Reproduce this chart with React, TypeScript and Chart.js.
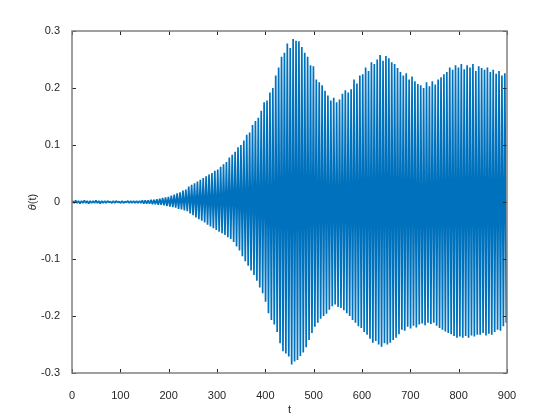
import React, { useEffect, useRef } from "react";
import { Chart, registerables } from "chart.js";

Chart.register(...registerables);

// Oscillation period in t units (one peak + one trough per cycle)
const PERIOD = 6;

const X_TICKS = [0, 100, 200, 300, 400, 500, 600, 700, 800, 900];
const Y_TICKS = [-0.3, -0.2, -0.1, 0, 0.1, 0.2, 0.3];

const X_TITLE = "t";
const Y_TITLE_SYMBOL = "θ";
const Y_TITLE_REST = "(t)";

// Peak value of each cycle (cycle k at t ≈ 6k)
const PEAKS = [
  0.002, 0.003, 0.002, 0.002, 0.003, 0.002, 0.002, 0.002, 0.003, 0.002,
  0.002, 0.002, 0.002, 0.001, 0.002, 0.002, 0.001, 0.002, 0.001, 0.002,
  0.002, 0.002, 0.002, 0.002, 0.003, 0.003, 0.003, 0.004, 0.004, 0.005,
  0.006, 0.007, 0.008, 0.009, 0.011, 0.013, 0.015, 0.017, 0.020, 0.022,
  0.027, 0.030, 0.033, 0.036, 0.039, 0.042, 0.045, 0.048, 0.051, 0.055,
  0.057, 0.062, 0.066, 0.070, 0.078, 0.083, 0.088, 0.096, 0.100, 0.108,
  0.118, 0.122, 0.135, 0.142, 0.148, 0.160, 0.175, 0.178, 0.192, 0.200,
  0.222, 0.236, 0.255, 0.262, 0.278, 0.270, 0.286, 0.283, 0.282, 0.272,
  0.262, 0.255, 0.240, 0.238, 0.215, 0.210, 0.205, 0.195, 0.187, 0.178,
  0.183, 0.175, 0.180, 0.190, 0.196, 0.192, 0.198, 0.215, 0.208, 0.222,
  0.224, 0.236, 0.230, 0.245, 0.242, 0.250, 0.258, 0.248, 0.256, 0.252,
  0.245, 0.242, 0.235, 0.228, 0.222, 0.226, 0.215, 0.220, 0.212, 0.207,
  0.205, 0.200, 0.210, 0.203, 0.212, 0.206, 0.215, 0.219, 0.224, 0.228,
  0.236, 0.232, 0.240, 0.236, 0.242, 0.233, 0.240, 0.236, 0.242, 0.230,
  0.238, 0.235, 0.232, 0.236, 0.228, 0.232, 0.225, 0.230, 0.222, 0.226,
];

// Trough value of each cycle
const TROUGHS = [
  -0.002, -0.002, -0.003, -0.002, -0.002, -0.003, -0.002, -0.002, -0.002, -0.003,
  -0.002, -0.002, -0.001, -0.002, -0.002, -0.001, -0.002, -0.002, -0.001, -0.002,
  -0.002, -0.002, -0.002, -0.002, -0.003, -0.003, -0.003, -0.004, -0.004, -0.005,
  -0.005, -0.006, -0.007, -0.008, -0.009, -0.010, -0.012, -0.013, -0.015, -0.016,
  -0.020, -0.023, -0.027, -0.030, -0.033, -0.036, -0.040, -0.043, -0.046, -0.049,
  -0.052, -0.055, -0.058, -0.062, -0.065, -0.070, -0.078, -0.085, -0.095, -0.104,
  -0.112, -0.120, -0.128, -0.138, -0.150, -0.160, -0.175, -0.195, -0.207, -0.215,
  -0.228, -0.248, -0.262, -0.266, -0.271, -0.285, -0.280, -0.277, -0.270, -0.264,
  -0.255, -0.242, -0.230, -0.219, -0.212, -0.205, -0.200, -0.196, -0.189, -0.183,
  -0.180, -0.184, -0.186, -0.190, -0.195, -0.200, -0.207, -0.212, -0.218, -0.221,
  -0.228, -0.233, -0.240, -0.247, -0.244, -0.250, -0.254, -0.248, -0.250, -0.247,
  -0.242, -0.238, -0.232, -0.224, -0.226, -0.219, -0.222, -0.217, -0.220, -0.215,
  -0.213, -0.216, -0.212, -0.214, -0.212, -0.217, -0.221, -0.224, -0.227, -0.230,
  -0.232, -0.235, -0.238, -0.236, -0.238, -0.235, -0.238, -0.234, -0.236, -0.233,
  -0.233, -0.230, -0.234, -0.231, -0.233, -0.228, -0.224, -0.226, -0.218, -0.212,
];

const LINE_COLOR = "#0072BD";
const TEXT_COLOR = "#262626";
const BOX_COLOR = "#808080";
const FONT_FAMILY = "'Liberation Sans', Arial, Helvetica, sans-serif";

const boxPlugin = {
  id: "matlabBox",
  afterDraw(chart: any) {
    const { ctx, chartArea } = chart;
    const { left, right, top, bottom } = chartArea;
    const xs = chart.scales.x;
    const ys = chart.scales.y;
    ctx.save();
    // ticks (inward, all four sides)
    ctx.strokeStyle = TEXT_COLOR;
    ctx.lineWidth = 1;
    const tl = 4;
    ctx.beginPath();
    X_TICKS.forEach((v) => {
      const px = Math.round(xs.getPixelForValue(v)) + 0.5;
      ctx.moveTo(px, bottom);
      ctx.lineTo(px, bottom - tl);
      ctx.moveTo(px, top);
      ctx.lineTo(px, top + tl);
    });
    Y_TICKS.forEach((v) => {
      const py = Math.round(ys.getPixelForValue(v)) + 0.5;
      ctx.moveTo(left, py);
      ctx.lineTo(left + tl, py);
      ctx.moveTo(right, py);
      ctx.lineTo(right - tl, py);
    });
    ctx.stroke();
    // box
    ctx.strokeStyle = BOX_COLOR;
    ctx.lineWidth = 1.5;
    ctx.strokeRect(left, top, right - left, bottom - top);
    // y title: italic theta + (t)
    const cx = 33;
    const cy = (top + bottom) / 2;
    ctx.translate(cx, cy);
    ctx.rotate(-Math.PI / 2);
    ctx.fillStyle = TEXT_COLOR;
    ctx.textBaseline = "middle";
    ctx.textAlign = "left";
    const fItalic = `italic 11px ${FONT_FAMILY}`;
    const fNormal = `11px ${FONT_FAMILY}`;
    ctx.font = fItalic;
    const w1 = ctx.measureText(Y_TITLE_SYMBOL).width;
    ctx.font = fNormal;
    const w2 = ctx.measureText(Y_TITLE_REST).width;
    const start = -(w1 + w2) / 2;
    ctx.font = fItalic;
    ctx.fillText(Y_TITLE_SYMBOL, start, 0);
    ctx.font = fNormal;
    ctx.fillText(Y_TITLE_REST, start + w1, 0);
    ctx.restore();
  },
};

export default function App() {
  const canvasRef = useRef<HTMLCanvasElement | null>(null);

  useEffect(() => {
    document.body.style.margin = "0";
    const canvas = canvasRef.current;
    if (!canvas) return;

    const points: { x: number; y: number }[] = [{ x: 0, y: 0 }];
    PEAKS.forEach((p, k) => {
      points.push({ x: k * PERIOD + PERIOD / 4, y: p });
      points.push({ x: k * PERIOD + (3 * PERIOD) / 4, y: TROUGHS[k] });
    });

    const chart = new Chart(canvas, {
      type: "line",
      data: {
        datasets: [
          {
            data: points,
            borderColor: LINE_COLOR,
            borderWidth: 1.7,
            borderJoinStyle: "bevel",
            pointRadius: 0,
            tension: 0,
            fill: false,
          },
        ],
      },
      options: {
        animation: false,
        responsive: false,
        parsing: false,
        normalized: true,
        layout: { padding: { left: 0, top: 31, right: 53, bottom: 0 } },
        plugins: {
          legend: { display: false },
          tooltip: { enabled: false },
        },
        scales: {
          x: {
            type: "linear",
            min: 0,
            max: 900,
            grid: { display: false },
            border: { display: false },
            afterBuildTicks: (scale: any) => {
              scale.ticks = X_TICKS.map((v) => ({ value: v }));
            },
            ticks: {
              color: TEXT_COLOR,
              font: { family: FONT_FAMILY, size: 11 },
              padding: 8,
              maxRotation: 0,
              autoSkip: false,
              callback: (v: any) => String(v),
            },
            title: {
              display: true,
              text: X_TITLE,
              color: TEXT_COLOR,
              font: { family: FONT_FAMILY, size: 11 },
              padding: { top: 0, bottom: 3 },
            },
            afterFit: (scale: any) => {
              scale.height = 47;
            },
          },
          y: {
            type: "linear",
            min: -0.3,
            max: 0.3,
            grid: { display: false },
            border: { display: false },
            afterBuildTicks: (scale: any) => {
              scale.ticks = Y_TICKS.map((v) => ({ value: v }));
            },
            ticks: {
              color: TEXT_COLOR,
              font: { family: FONT_FAMILY, size: 11 },
              padding: 4,
              autoSkip: false,
              callback: (v: any) => {
                const n = Number(Number(v).toFixed(1));
                return n === 0 ? "0" : String(n);
              },
            },
            afterFit: (scale: any) => {
              scale.width = 72;
            },
          },
        },
      },
      plugins: [boxPlugin],
    });

    return () => chart.destroy();
  }, []);

  return (
    <div style={{ position: "fixed", left: 0, top: 0, width: 560, height: 420, background: "#fff" }}>
      <canvas ref={canvasRef} width={560} height={420} style={{ width: 560, height: 420, display: "block" }} />
    </div>
  );
}
